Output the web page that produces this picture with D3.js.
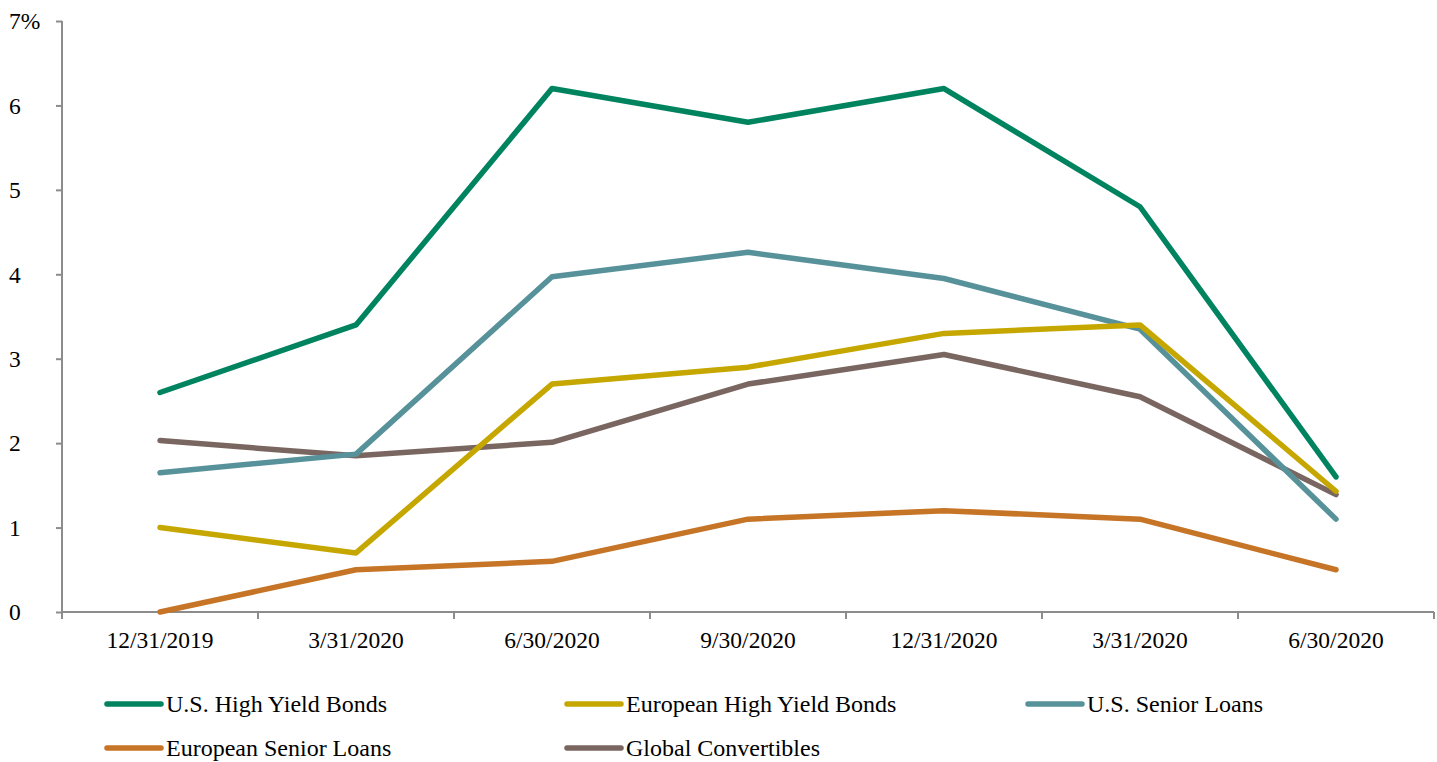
<!DOCTYPE html>
<html>
<head>
<meta charset="utf-8">
<script src="https://cdn.jsdelivr.net/npm/d3@7"></script>
<style>
  body { margin: 0; background: #fff; }
  text { font-family: "Liberation Serif", "Times New Roman", serif; fill: #000; }
</style>
</head>
<body>
<div id="chart"></div>
<script>
const dates = ["12/31/2019", "3/31/2020", "6/30/2020", "9/30/2020", "12/31/2020", "3/31/2020", "6/30/2020"];
const yTicks = [0, 1, 2, 3, 4, 5, 6, 7];

const usHighYield = [2.6, 3.4, 6.2, 5.8, 6.2, 4.8, 1.6];
const euroHighYield = [1.0, 0.7, 2.7, 2.9, 3.3, 3.4, 1.43];
const usSeniorLoans = [1.65, 1.87, 3.97, 4.26, 3.95, 3.35, 1.1];
const euroSeniorLoans = [0.0, 0.5, 0.6, 1.1, 1.2, 1.1, 0.5];
const globalConvertibles = [2.03, 1.85, 2.01, 2.7, 3.05, 2.55, 1.39];

const seriesNames = ["U.S. High Yield Bonds", "European High Yield Bonds", "U.S. Senior Loans",
  "European Senior Loans", "Global Convertibles"];
const colors = ["#00835f", "#c5a700", "#57929b", "#c67426", "#7a6660"];

const series = [usHighYield, euroHighYield, usSeniorLoans, euroSeniorLoans, globalConvertibles]
  .map((vals, i) => ({ name: seriesNames[i], color: colors[i], values: vals }));

// draw order: bottom to top as in the picture
const drawOrder = [3, 4, 2, 1, 0];

const width = 1437, height = 762;
const margin = { left: 62, right: 3, top: 21, bottom: 150 };

const svg = d3.select("#chart").append("svg")
  .attr("width", width)
  .attr("height", height);

const x = d3.scaleBand()
  .domain(dates.map((d, i) => i))
  .range([margin.left, width - margin.right]);

const y = d3.scaleLinear()
  .domain([0, 7])
  .range([height - margin.bottom, margin.top]);

const axisColor = "#8c8c8c";

// y axis
const yAxis = svg.append("g")
  .attr("transform", "translate(" + margin.left + ",0)")
  .call(d3.axisLeft(y).tickValues(yTicks).tickSize(6).tickFormat(""));
yAxis.select(".domain").attr("stroke", axisColor).attr("stroke-width", 2).attr("d",
  "M0," + y(0) + "V" + y(7));
yAxis.selectAll(".tick line").attr("stroke", axisColor).attr("stroke-width", 2);

svg.append("g").selectAll("text")
  .data(yTicks)
  .join("text")
  .attr("x", 9)
  .attr("y", d => y(d))
  .attr("dy", "0.35em")
  .attr("font-size", 23.5)
  .text(d => d === 7 ? d + "%" : d);

// x axis
const xAxis = svg.append("g")
  .attr("transform", "translate(0," + y(0) + ")");
xAxis.append("line")
  .attr("x1", margin.left).attr("x2", width - margin.right)
  .attr("stroke", axisColor).attr("stroke-width", 2);
const tickPos = dates.map((d, i) => x(i)).concat([x(dates.length - 1) + x.bandwidth()]);
xAxis.selectAll(".xtick")
  .data(tickPos)
  .join("line")
  .attr("class", "xtick")
  .attr("x1", d => d).attr("x2", d => d)
  .attr("y1", 0).attr("y2", 7)
  .attr("stroke", axisColor).attr("stroke-width", 2);
xAxis.selectAll(".xlabel")
  .data(dates)
  .join("text")
  .attr("class", "xlabel")
  .attr("x", (d, i) => x(i) + x.bandwidth() / 2)
  .attr("y", 36)
  .attr("text-anchor", "middle")
  .attr("font-size", 23.5)
  .text(d => d);

// lines
const line = d3.line()
  .x((d, i) => x(i) + x.bandwidth() / 2)
  .y(d => y(d));

svg.append("g").selectAll("path")
  .data(drawOrder.map(i => series[i]))
  .join("path")
  .attr("d", d => line(d.values))
  .attr("fill", "none")
  .attr("stroke", d => d.color)
  .attr("stroke-width", 5.5)
  .attr("stroke-linejoin", "round")
  .attr("stroke-linecap", "round");

// legend
const legendX = [107, 567, 1028];
const legendY = [704, 748];
const legend = svg.append("g").selectAll("g")
  .data(series)
  .join("g")
  .attr("transform", (d, i) => "translate(" + legendX[i % 3] + "," + legendY[Math.floor(i / 3)] + ")");
legend.append("line")
  .attr("x1", 0).attr("x2", 54)
  .attr("stroke", d => d.color)
  .attr("stroke-width", 5.5)
  .attr("stroke-linecap", "round");
legend.append("text")
  .attr("x", 59)
  .attr("dy", "0.35em")
  .attr("font-size", 24)
  .text(d => d.name);
</script>
</body>
</html>
